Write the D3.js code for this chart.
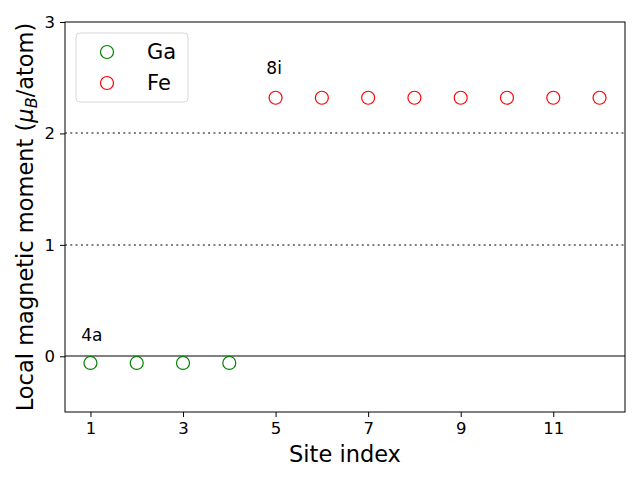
<!DOCTYPE html>
<html><head><meta charset="utf-8">
<script src="https://cdn.jsdelivr.net/npm/d3@7"></script>
<style>body{margin:0;background:#fff}svg{display:block;font-family:"DejaVu Sans",sans-serif}</style>
</head><body>
<script>
const gaSites = [1, 2, 3, 4];
const gaMoments = [-0.06, -0.06, -0.06, -0.06];
const feSites = [5, 6, 7, 8, 9, 10, 11, 12];
const feMoments = [2.32, 2.32, 2.32, 2.32, 2.32, 2.32, 2.32, 2.32];
const xTicks = [1, 3, 5, 7, 9, 11];
const yTicks = [0, 1, 2, 3];
const refLines = [1, 2];
const seriesNames = ["Ga", "Fe"];
const seriesColors = ["green", "red"];
const annotations = [{text: "4a", x: 0.8, y: 0.14}, {text: "8i", x: 4.8, y: 2.53}];

const W = 640, H = 480;
const m = {l: 65, r: 15, t: 22, b: 68};
const svg = d3.select("body").append("svg").attr("width", W).attr("height", H);
const x = d3.scaleLinear().domain([0.45, 12.55]).range([m.l, W - m.r]);
const y = d3.scaleLinear().domain([-0.5, 3]).range([H - m.b, m.t]);

// reference lines
svg.append("line").attr("x1", x.range()[0]).attr("x2", x.range()[1])
  .attr("y1", Math.round(y(0))).attr("y2", Math.round(y(0))).attr("stroke", "#808080").attr("stroke-width", 2);
svg.selectAll(".ref").data(refLines).enter().append("line")
  .attr("x1", x.range()[0]).attr("x2", x.range()[1])
  .attr("y1", d => Math.round(y(d))).attr("y2", d => Math.round(y(d)))
  .attr("stroke", "#808080").attr("stroke-width", 2).attr("stroke-dasharray", "2,3.3");

// axes
const xAxis = svg.append("g").attr("transform", `translate(0,${H - m.b})`)
  .call(d3.axisBottom(x).tickValues(xTicks).tickSize(5).tickPadding(5).tickFormat(d3.format("d")));
const yAxis = svg.append("g").attr("transform", `translate(${m.l},0)`)
  .call(d3.axisLeft(y).tickValues(yTicks).tickSize(5).tickPadding(5).tickFormat(d3.format("d")));
[xAxis, yAxis].forEach(a => {
  a.select(".domain").remove();
  a.selectAll("text").attr("font-size", 16.5).attr("fill", "#000").attr("font-family", "DejaVu Sans");
  a.selectAll("line").attr("stroke", "#000");
});
svg.append("rect").attr("x", m.l).attr("y", m.t).attr("width", W - m.l - m.r).attr("height", H - m.t - m.b)
  .attr("fill", "none").attr("stroke", "#000").attr("stroke-width", 1);

// points
const r = 6.5;
svg.selectAll(".ga").data(gaSites).enter().append("circle")
  .attr("cx", d => x(d)).attr("cy", (d, i) => y(gaMoments[i])).attr("r", r)
  .attr("fill", "none").attr("stroke", seriesColors[0]).attr("stroke-width", 1.2);
svg.selectAll(".fe").data(feSites).enter().append("circle")
  .attr("cx", d => x(d)).attr("cy", (d, i) => y(feMoments[i])).attr("r", r)
  .attr("fill", "none").attr("stroke", seriesColors[1]).attr("stroke-width", 1.2);

// annotations
svg.selectAll(".ann").data(annotations).enter().append("text")
  .attr("x", d => x(d.x)).attr("y", d => y(d.y)).text(d => d.text)
  .attr("font-size", 17).attr("fill", "#000");

// axis labels
svg.append("text").attr("x", (m.l + W - m.r) / 2).attr("y", 462).attr("text-anchor", "middle")
  .attr("font-size", 22.5).text("Site index");
const yl = svg.append("text").attr("transform", `translate(33,${(m.t + H - m.b) / 2}) rotate(-90)`)
  .attr("text-anchor", "middle").attr("font-size", 22.5);
yl.append("tspan").text("Local magnetic moment (");
yl.append("tspan").attr("font-style", "italic").attr("font-family", "DejaVu Sans").text("μ");
yl.append("tspan").attr("font-style", "italic").attr("font-size", 16).attr("dy", 4).text("B");
yl.append("tspan").attr("dy", -4).text("/atom)");

// legend
const lg = svg.append("g");
lg.append("rect").attr("x", 76).attr("y", 33).attr("width", 112).attr("height", 69).attr("rx", 4)
  .attr("fill", "#fff").attr("fill-opacity", 0.8).attr("stroke", "#d6d6d6");
seriesNames.forEach((n, i) => {
  const yy = 52 + i * 31;
  lg.append("circle").attr("cx", 107).attr("cy", yy).attr("r", r)
    .attr("fill", "none").attr("stroke", seriesColors[i]).attr("stroke-width", 1.2);
  lg.append("text").attr("x", 147).attr("y", yy + 7).attr("font-size", 21).text(n);
});
</script>
</body></html>
